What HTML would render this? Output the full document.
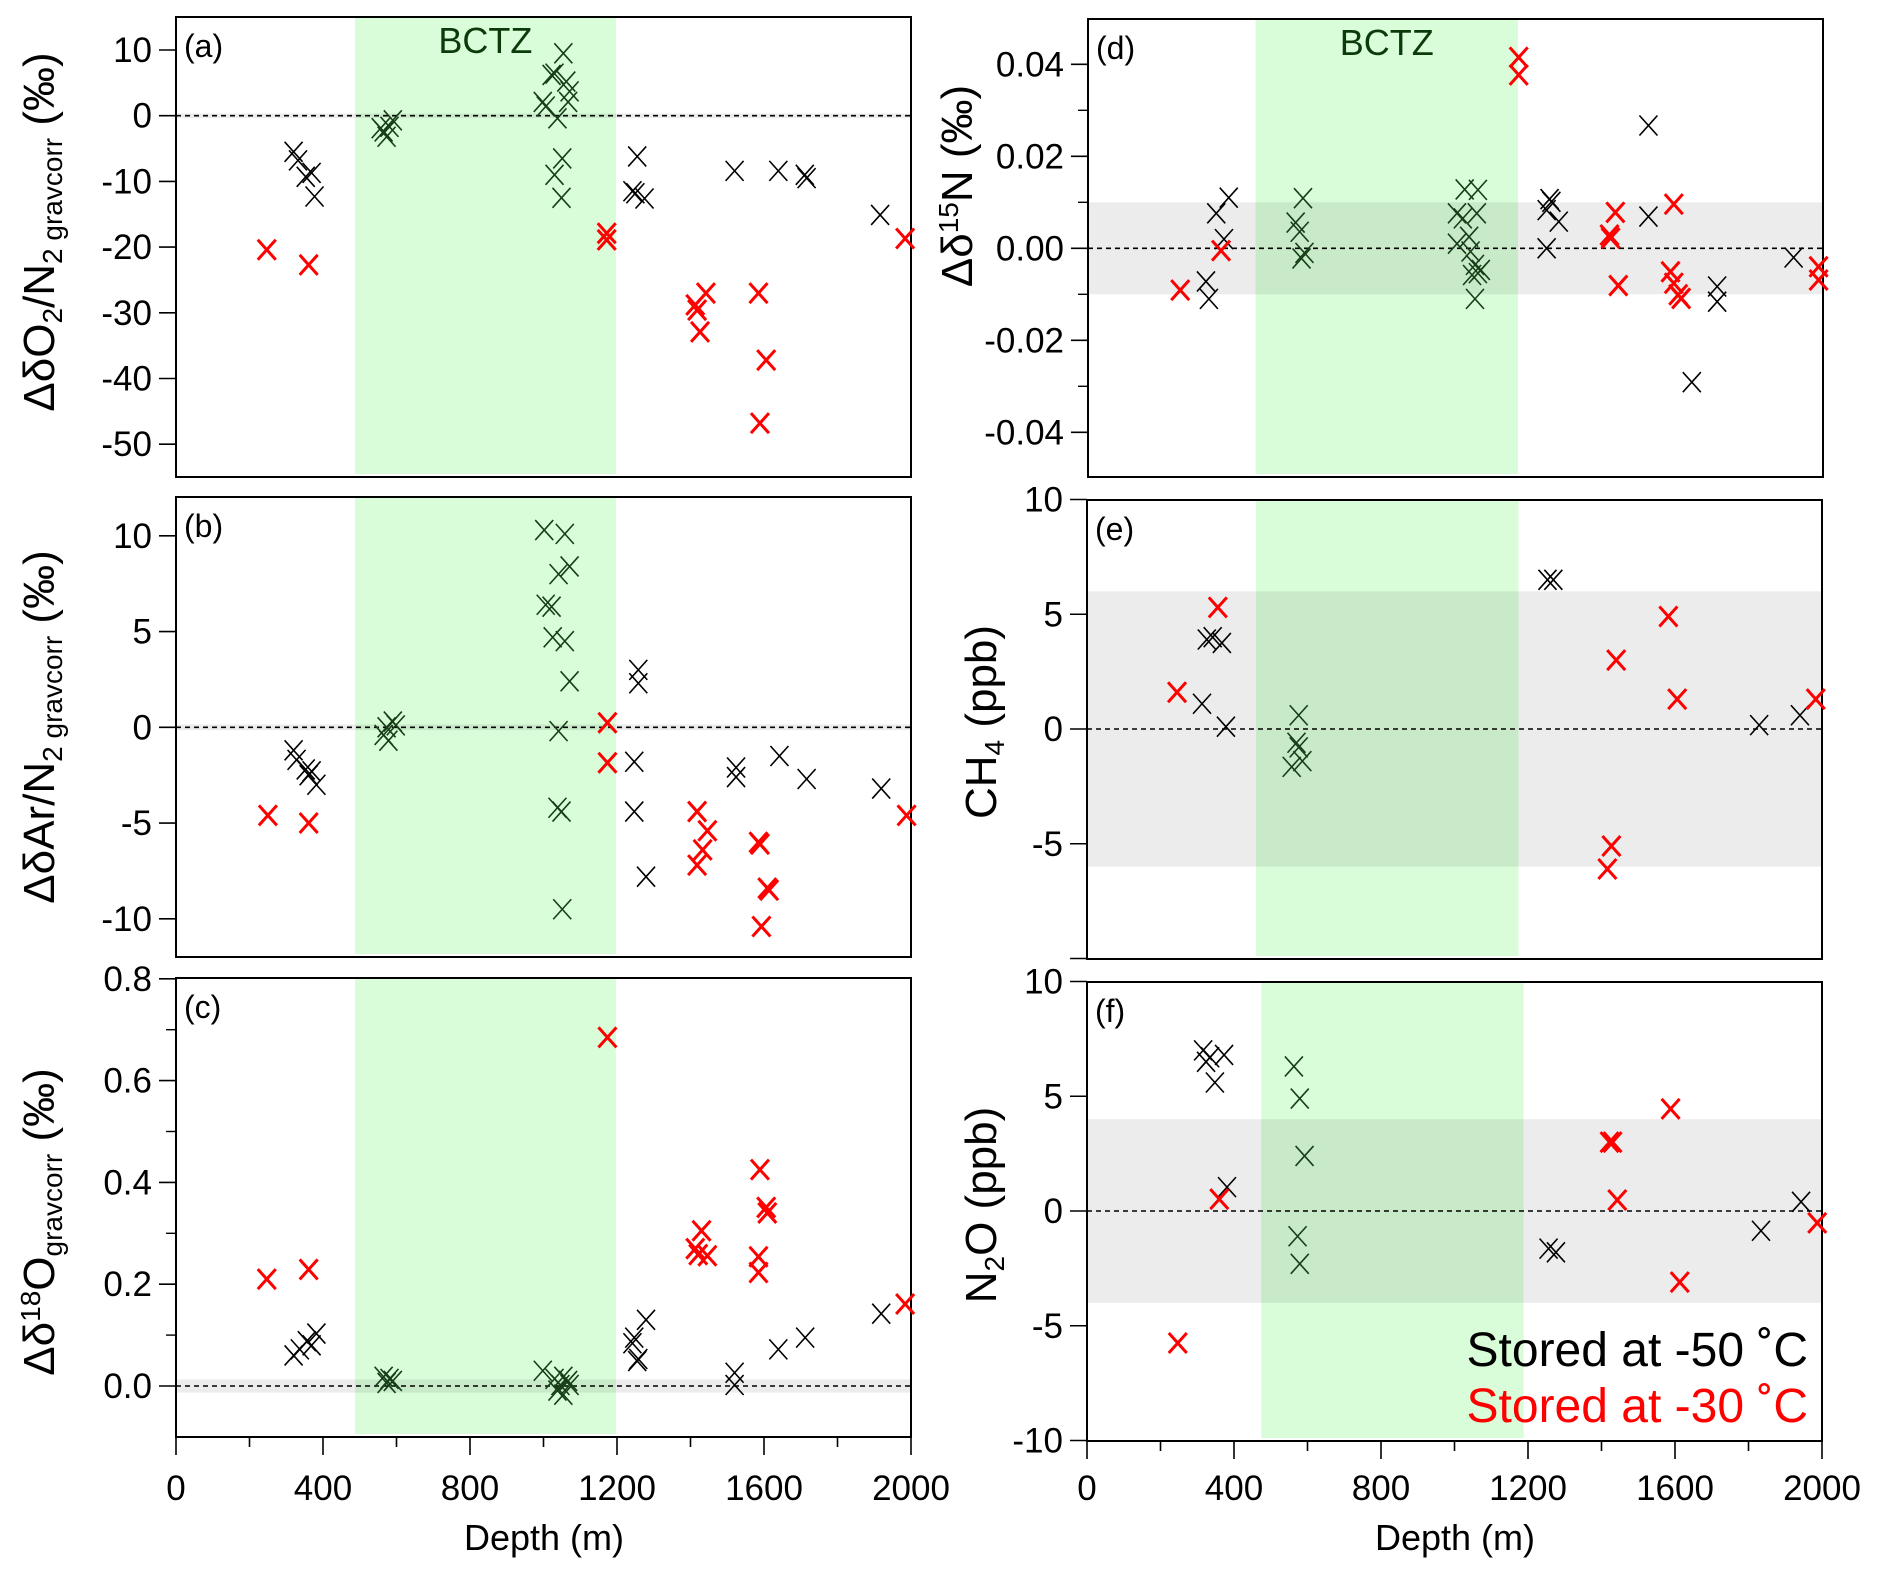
<!DOCTYPE html>
<html><head><meta charset="utf-8">
<style>
html,body{margin:0;padding:0;background:#fff;}
svg{display:block;font-family:"Liberation Sans",sans-serif;}
</style></head>
<body>
<svg id="fig" width="1877" height="1580" viewBox="0 0 1877 1580" xmlns="http://www.w3.org/2000/svg">
<g id="layer"></g>
<g>
<text transform="translate(54,232) rotate(-90)" text-anchor="middle" font-size="44">ΔδO<tspan font-size="28" dy="8">2</tspan><tspan dy="-8">/N</tspan><tspan font-size="28" dy="8">2 gravcorr</tspan><tspan dy="-8"> (‰)</tspan></text>
</g>
<g>
<text transform="translate(54,727) rotate(-90)" text-anchor="middle" font-size="44">ΔδAr/N<tspan font-size="28" dy="8">2 gravcorr</tspan><tspan dy="-8">    (‰)</tspan></text>
</g>
<g>
<text transform="translate(54,1222) rotate(-90)" text-anchor="middle" font-size="44">Δδ<tspan font-size="28" dy="-14">18</tspan><tspan dy="14">O</tspan><tspan font-size="28" dy="8">gravcorr</tspan><tspan dy="-8"> (‰)</tspan></text>
</g>
<g>
<text transform="translate(972,186) rotate(-90)" text-anchor="middle" font-size="44">Δδ<tspan font-size="28" dy="-14">15</tspan><tspan dy="14">N (‰)</tspan></text>
</g>
<g>
<text transform="translate(996,722) rotate(-90)" text-anchor="middle" font-size="44">CH<tspan font-size="28" dy="8">4</tspan><tspan dy="-8"> (ppb)</tspan></text>
</g>
<g>
<text transform="translate(996,1205) rotate(-90)" text-anchor="middle" font-size="44">N<tspan font-size="28" dy="8">2</tspan><tspan dy="-8">O (ppb)</tspan></text>
</g>
<text x="544" y="1550" text-anchor="middle" font-size="36">Depth (m)</text>
<text x="1455" y="1550" text-anchor="middle" font-size="36">Depth (m)</text>
<text x="1808" y="1366" text-anchor="end" font-size="48" fill="#000">Stored at -50 ˚C</text>
<text x="1808" y="1422" text-anchor="end" font-size="48" fill="#ff0000">Stored at -30 ˚C</text>
</svg>
<script>
// ---------- DATA ----------
// panel (a) ΔδO2/N2
const aBlackDepth=[320,332,353,369,377,1255,1242,1250,1275,1520,1639,1711,1716,1916];
const aBlackVal=[-5.5,-6.8,-9.3,-8.7,-12.3,-6.2,-11.5,-11.8,-12.6,-8.4,-8.4,-9.0,-9.5,-15.1];
const aGreenDepth=[565,573,581,590,557,998,1006,1022,1030,1054,1062,1071,1067,1038,1051,1030,1049];
const aGreenVal=[-2.4,-3.2,-1.7,-0.7,-1.9,2.1,1.4,6.2,6.4,9.5,5.2,3.7,2.1,-0.4,-6.5,-9.0,-12.5];
const aRedDepth=[247,361,1172,1172,1413,1418,1442,1426,1585,1606,1589,1984];
const aRedVal=[-20.4,-22.7,-17.9,-18.9,-28.8,-29.6,-27.0,-32.9,-27.0,-37.2,-46.8,-18.7];
// panel (b) ΔδAr/N2
const bBlackDepth=[320,328,353,369,361,382,1258,1258,1247,1247,1279,1524,1524,1642,1716,1919];
const bBlackVal=[-1.2,-1.7,-2.2,-2.3,-2.5,-3.0,3.0,2.3,-1.8,-4.4,-7.8,-2.1,-2.6,-1.5,-2.7,-3.2];
const bGreenDepth=[573,590,598,565,578,1002,1058,1041,1071,1006,1022,1025,1058,1071,1041,1038,1049,1051];
const bGreenVal=[0,0.3,0.1,-0.4,-0.7,10.3,10.1,8.0,8.4,6.4,6.3,4.7,4.5,2.4,-0.2,-4.2,-4.4,-9.5];
const bRedDepth=[250,361,1174,1174,1418,1446,1433,1418,1585,1589,1609,1614,1593,1988];
const bRedVal=[-4.6,-5.0,0.24,-1.85,-4.4,-5.4,-6.4,-7.2,-6.0,-6.1,-8.4,-8.5,-10.4,-4.6];
// panel (c) Δδ18O
const cBlackDepth=[320,337,356,369,382,1247,1242,1255,1258,1279,1520,1520,1639,1712,1919];
const cBlackVal=[0.06,0.072,0.088,0.08,0.103,0.095,0.084,0.049,0.053,0.13,0.026,0.002,0.072,0.095,0.142];
const cGreenDepth=[565,581,590,573,998,1030,1046,1054,1067,1038,1054,1071];
const cGreenVal=[0.018,0.014,0.01,0.006,0.03,0.014,0.002,0.018,0.01,-0.009,-0.017,0.002];
const cRedDepth=[247,361,1174,1413,1421,1430,1446,1589,1585,1585,1606,1609,1984];
const cRedVal=[0.21,0.229,0.685,0.27,0.258,0.305,0.256,0.425,0.254,0.223,0.351,0.34,0.161];
// panel (d) Δδ15N
const dBlackDepth=[321,329,349,370,383,1248,1256,1261,1248,1281,1525,1525,1643,1712,1712,1920];
const dBlackVal=[-0.0072,-0.011,0.0076,0.002,0.011,0,0.0107,0.0101,0.0083,0.0058,0.0267,0.0069,-0.0291,-0.0083,-0.0116,-0.002];
const dGreenDepth=[565,576,585,589,581,1004,1020,1025,1061,1058,1037,1004,1041,1053,1061,1069,1045,1053];
const dGreenVal=[0.0056,0.0036,0.0109,-0.001,-0.0022,0.0076,0.0065,0.0128,0.0127,0.0076,0.0025,0.001,-0.0007,-0.0036,-0.0054,-0.0047,-0.0058,-0.011];
const dRedDepth=[251,362,1172,1172,1435,1419,1422,1443,1594,1585,1594,1606,1614,1988,1988];
const dRedVal=[-0.0091,-0.0005,0.0415,0.0377,0.0078,0.0029,0.0022,-0.0081,0.0096,-0.0051,-0.0076,-0.0101,-0.0109,-0.004,-0.0069];
// panel (e) CH4
const eBlackDepth=[313,326,342,367,378,1253,1269,1829,1940];
const eBlackVal=[1.1,3.9,4.0,3.75,0.1,6.5,6.5,0.17,0.6];
const eGreenDepth=[576,570,576,557,586];
const eGreenVal=[0.6,-0.6,-0.8,-1.65,-1.4];
const eRedDepth=[245,356,1440,1582,1606,1427,1416,1983];
const eRedVal=[1.6,5.3,3.0,4.9,1.3,-5.1,-6.1,1.3];
// panel (f) N2O
const fBlackDepth=[316,324,335,373,348,381,1256,1276,1834,1943];
const fBlackVal=[7.0,6.5,6.7,6.8,5.6,1.04,-1.64,-1.8,-0.86,0.4];
const fGreenDepth=[563,579,592,573,579];
const fGreenVal=[6.3,4.9,2.4,-1.1,-2.3];
const fRedDepth=[247,360,1422,1430,1443,1588,1613,1987];
const fRedVal=[-5.75,0.52,3.0,3.0,0.48,4.45,-3.1,-0.52];
// tick labels
const xTickLabels=["0","400","800","1200","1600","2000"];
const xTickVals=[0,400,800,1200,1600,2000];
const aTicks=[10,0,-10,-20,-30,-40,-50];
const bTicks=[10,5,0,-5,-10];
const cTicks=[0.8,0.6,0.4,0.2,0.0];
const cTickLabels=["0.8","0.6","0.4","0.2","0.0"];
const dTicks=[0.04,0.02,0,-0.02,-0.04];
const dTickLabels=["0.04","0.02","0.00","-0.02","-0.04"];
const eTicks=[10,5,0,-5,-10];
const eTickLabels=["10","5","0","-5",""];
const fTicks=[10,5,0,-5,-10];

// ---------- DRAW ----------
const NS="http://www.w3.org/2000/svg";
const layer=document.getElementById('layer');
function mk(tag,attrs,parent){const e=document.createElementNS(NS,tag);for(const k in attrs)e.setAttribute(k,attrs[k]);(parent||layer).appendChild(e);return e;}

const panels=[
 {id:'a',L:176,R:911,T:17,B:477,y0:115.7,k:6.57,xs:0.3675,gx:[487,1197],band:0.35,ticks:aTicks,labels:aTicks.map(String),minor:[],lab:'(a)',bctz:true,xlab:false,
  bd:aBlackDepth,bv:aBlackVal,gd:aGreenDepth,gv:aGreenVal,rd:aRedDepth,rv:aRedVal},
 {id:'b',L:176,R:911,T:497,B:957,y0:727.3,k:19.15,xs:0.3675,gx:[487,1197],band:0.15,ticks:bTicks,labels:bTicks.map(String),minor:[],lab:'(b)',bctz:false,xlab:false,
  bd:bBlackDepth,bv:bBlackVal,gd:bGreenDepth,gv:bGreenVal,rd:bRedDepth,rv:bRedVal},
 {id:'c',L:176,R:911,T:978,B:1437,y0:1386,k:509,xs:0.3675,gx:[487,1197],band:0.013,ticks:cTicks,labels:cTickLabels,minor:[0.7,0.5,0.3,0.1],lab:'(c)',bctz:false,xlab:true,
  bd:cBlackDepth,bv:cBlackVal,gd:cGreenDepth,gv:cGreenVal,rd:cRedDepth,rv:cRedVal},
 {id:'d',L:1088,R:1823,T:19,B:477,y0:248.3,k:4600,xs:0.3675,gx:[456,1170],band:0.01,ticks:dTicks,labels:dTickLabels,minor:[0.03,0.01,-0.01,-0.03],lab:'(d)',bctz:true,xlab:false,
  bd:dBlackDepth,bv:dBlackVal,gd:dGreenDepth,gv:dGreenVal,rd:dRedDepth,rv:dRedVal},
 {id:'e',L:1087,R:1822,T:500,B:959,y0:729,k:22.95,xs:0.3675,gx:[460,1174],band:6,ticks:eTicks,labels:eTickLabels,minor:[],lab:'(e)',bctz:false,xlab:false,
  bd:eBlackDepth,bv:eBlackVal,gd:eGreenDepth,gv:eGreenVal,rd:eRedDepth,rv:eRedVal},
 {id:'f',L:1087,R:1822,T:982,B:1441,y0:1211,k:22.95,xs:0.3675,gx:[474,1188],band:4,ticks:fTicks,labels:fTicks.map(String),minor:[],lab:'(f)',bctz:false,xlab:true,
  bd:fBlackDepth,bv:fBlackVal,gd:fGreenDepth,gv:fGreenVal,rd:fRedDepth,rv:fRedVal}
];

function cross(g,x,y,col,w,name){
  const p=mk('path',{d:`M${x-9},${y-10}L${x+9},${y+10}M${x-9},${y+10}L${x+9},${y-10}`,stroke:col,'stroke-width':w,fill:'none'},g);
  
  
}

panels.forEach(P=>{
  const g=mk('g',{});
  
  
  const X=d=>P.L+d*P.xs;
  const Y=v=>P.y0-v*P.k;
  const gb=mk('rect',{x:X(P.gx[0]),y:P.T+1,width:X(P.gx[1])-X(P.gx[0]),height:P.B-P.T-4,fill:'#d9fdd9'},g);
  
  
  const gr=mk('rect',{x:P.L,y:Y(P.band),width:P.R-P.L,height:Y(-P.band)-Y(P.band),fill:'#000','fill-opacity':0.075},g);
  
  
  const zl=mk('line',{x1:P.L,x2:P.R,y1:Y(0),y2:Y(0),stroke:'#000','stroke-width':1.6,'stroke-dasharray':'5,4'},g);
  
  
  const fr=mk('rect',{x:P.L,y:P.T,width:P.R-P.L,height:P.B-P.T,fill:'none',stroke:'#000','stroke-width':2},g);
  
  
  P.ticks.forEach((v,i)=>{
    const t=mk('line',{x1:P.L-17,x2:P.L,y1:Y(v),y2:Y(v),stroke:'#000','stroke-width':1.6},g);
    
    
    if(P.labels[i]!==""){
      const tx=mk('text',{x:P.L-24,y:Y(v)+12,'text-anchor':'end','font-size':35},g);
      tx.textContent=P.labels[i];
      
      
    }
  });
  P.minor.forEach(v=>{
    const t=mk('line',{x1:P.L-10,x2:P.L,y1:Y(v),y2:Y(v),stroke:'#000','stroke-width':1.4},g);
    
    
  });
  if(P.xlab){
    for(let d=0;d<=2000;d+=200){
      const major=d%400===0;
      const t=mk('line',{x1:X(d),x2:X(d),y1:P.B,y2:P.B+(major?18:10),stroke:'#000','stroke-width':1.6},g);
      
      
    }
    xTickVals.forEach((d,i)=>{
      const tx=mk('text',{x:X(d),y:1500,'text-anchor':'middle','font-size':35},g);
      tx.textContent=xTickLabels[i];
      
      
    });
  }
  const lb=mk('text',{x:P.L+8,y:P.T+40,'font-size':32},g);
  lb.textContent=P.lab;
  
  
  if(P.bctz){
    const bt=mk('text',{x:(X(P.gx[0])+X(P.gx[1]))/2,y:P.T+36,'text-anchor':'middle','font-size':36,fill:'#0b3a0b'},g);
    bt.textContent='BCTZ';
    
    
  }
  P.bd.forEach((d,i)=>cross(g,X(d),Y(P.bv[i]),'#000',1.6,'point-stored-minus50'));
  P.gd.forEach((d,i)=>cross(g,X(d),Y(P.gv[i]),'#173f17',1.6,'point-stored-minus50-bctz'));
  P.rd.forEach((d,i)=>cross(g,X(d),Y(P.rv[i]),'#ff0000',3,'point-stored-minus30'));
});
</script>
</body></html>
